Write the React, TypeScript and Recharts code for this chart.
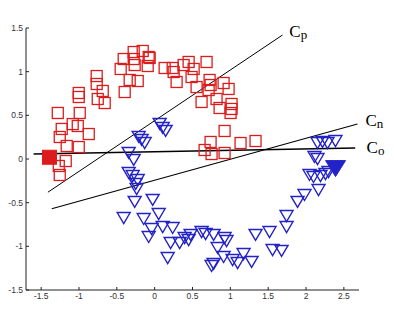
import React from 'react';
import { ScatterChart, Scatter, XAxis, YAxis, ReferenceLine, ReferenceDot } from 'recharts';

// Hollow red squares (positive class)
const redSquares: [number, number][] = [
  [-1.28, 0.527], [-0.99, 0.527], [-1.228, 0.344], [-1.254, 0.252], [-1.083, 0.40],
  [-1.016, 0.378], [-0.871, 0.286], [-1.162, 0.149], [-1.003, 0.137], [-1.175, -0.023],
  [-1.267, -0.08], [-1.254, -0.183], [-1.003, 0.756], [-1.003, 0.71], [-0.766, 0.95],
  [-0.766, 0.859], [-0.686, 0.779], [-0.752, 0.687], [-0.66, 0.641], [-0.449, 1.031],
  [-0.409, 1.145], [-0.396, 0.767], [-0.33, 0.905], [-0.224, 0.893], [-0.277, 1.225],
  [-0.277, 1.145], [-0.264, 1.076], [-0.158, 1.237], [-0.079, 1.168], [-0.066, 1.157],
  [-0.092, 1.065], [0.132, 1.042], [0.238, 1.042], [0.251, 0.996], [0.29, 0.882],
  [0.383, 1.076], [0.449, 1.111], [0.515, 1.031], [0.488, 0.939], [0.554, 0.824],
  [0.686, 1.111], [0.726, 0.905], [0.739, 0.847], [0.713, 0.79], [0.911, 0.87],
  [0.977, 0.802], [0.62, 0.653], [0.818, 0.687], [0.858, 0.584], [1.016, 0.63],
  [1.016, 0.573], [1.003, 0.527], [0.924, 0.321], [0.739, 0.195], [0.66, 0.103],
  [0.752, 0.057], [0.924, 0.069], [1.135, 0.183], [1.333, 0.206],
];

// Hollow blue downward triangles (negative class)
const blueTriangles: [number, number][] = [
  [0.066, 0.401], [0.106, 0.355], [0.145, 0.321], [-0.211, 0.252], [-0.172, 0.218],
  [-0.132, 0.183], [-0.343, 0.069], [-0.277, -0.011], [-0.343, -0.16], [-0.29, -0.195],
  [-0.224, -0.241], [-0.251, -0.286], [-0.238, -0.344], [-0.264, -0.492], [-0.026, -0.469],
  [-0.409, -0.676], [-0.145, -0.687], [0.053, -0.63], [-0.04, -0.802], [-0.079, -0.893],
  [0.106, -0.779], [0.238, -0.79], [0.211, -0.962], [0.172, -1.134], [0.33, -0.962],
  [0.396, -0.905], [0.449, -0.928], [0.475, -0.87], [0.62, -0.836], [0.673, -0.859],
  [0.779, -0.87], [0.924, -0.905], [0.95, -0.939], [0.832, -1.019], [0.911, -1.122],
  [0.779, -1.202], [0.752, -1.225], [1.03, -1.157], [1.096, -1.191], [1.175, -1.088],
  [1.281, -1.179], [1.333, -0.87], [1.518, -0.836], [1.558, -1.042], [1.677, -1.053],
  [1.743, -0.653], [1.743, -0.779], [1.888, -0.492], [1.98, -0.412], [2.165, -0.355],
  [2.046, -0.183], [2.099, -0.206], [2.191, -0.195], [2.257, -0.172], [2.297, -0.149],
  [2.112, 0.023], [2.152, 0.0], [2.152, 0.183], [2.218, 0.195], [2.284, 0.183],
  [2.389, 0.206],
];

const redFilled: [number, number][] = [[-1.39, 0.02]];
const blueFilled: [number, number][] = [[2.39, -0.11]];

// Classifier lines: [start, end]
const lineCp: [number, number][] = [[-1.41, -0.38], [1.69, 1.42]];
const lineCn: [number, number][] = [[-1.36, -0.57], [2.68, 0.4]];
const lineCo: [number, number][] = [[-1.6, 0.057], [2.65, 0.126]];

// Line labels: [x, y, main, subscript]
const lineLabels: [number, number, string, string][] = [
  [1.78, 1.40, 'C', 'p'],
  [2.785, 0.378, 'C', 'n'],
  [2.80, 0.069, 'C', 'o'],
];

const xTicks = [-1.5, -1, -0.5, 0, 0.5, 1, 1.5, 2, 2.5];
const yTicks = [-1.5, -1, -0.5, 0, 0.5, 1, 1.5];

const RED = '#dc1c1c';
const BLUE = '#2222c8';

const toPts = (a: [number, number][]) => a.map(([x, y]) => ({ x, y }));

const HollowSquare = (p: any) => (
  <rect x={p.cx - 5.5} y={p.cy - 5.5} width={11} height={11} fill="none" stroke={RED} strokeWidth={1.3} />
);
const FilledSquare = (p: any) => (
  <rect x={p.cx - 7} y={p.cy - 7} width={14} height={14} fill={RED} stroke={RED} strokeWidth={1} />
);
const HollowTri = (p: any) => (
  <polygon
    points={`${p.cx - 6.5},${p.cy - 5.5} ${p.cx + 6.5},${p.cy - 5.5} ${p.cx},${p.cy + 5.5}`}
    fill="none" stroke={BLUE} strokeWidth={1.4} strokeLinejoin="miter"
  />
);
const FilledTri = (p: any) => (
  <polygon
    points={`${p.cx - 10},${p.cy - 8} ${p.cx + 10},${p.cy - 8} ${p.cx},${p.cy + 8}`}
    fill={BLUE} stroke={BLUE} strokeWidth={1}
  />
);

const XTick = (p: any) => (
  <g>
    <line x1={p.x} x2={p.x} y1={p.y} y2={p.y - 3} stroke="#222" strokeWidth={1} />
    <text x={p.x} y={p.y + 9} textAnchor="middle" fontSize={8.5} fill="#333"
      fontFamily="Liberation Sans, Arial, sans-serif">{String(p.payload.value)}</text>
  </g>
);
const YTick = (p: any) => (
  <g>
    <line x1={p.x} x2={p.x + 3} y1={p.y} y2={p.y} stroke="#222" strokeWidth={1} />
    <text x={p.x - 3} y={p.y} dy="0.35em" textAnchor="end" fontSize={8.5} fill="#333"
      fontFamily="Liberation Sans, Arial, sans-serif">{String(p.payload.value)}</text>
  </g>
);

const seg = (l: [number, number][]) => [{ x: l[0][0], y: l[0][1] }, { x: l[1][0], y: l[1][1] }];

export default function App() {
  return (
    <div style={{ position: 'absolute', left: 0, top: 0, width: 394, height: 319, background: '#fff' }}>
      <ScatterChart width={394} height={319} margin={{ top: 28, right: 35, bottom: 0, left: 0 }}>
        <XAxis type="number" dataKey="x" domain={[-1.7, 2.7]} ticks={xTicks} interval={0}
          allowDataOverflow height={29} tickSize={0} tickMargin={0} tick={<XTick />}
          tickLine={false} axisLine={{ stroke: '#222', strokeWidth: 1 }} />
        <YAxis type="number" dataKey="y" domain={[-1.5, 1.5]} ticks={yTicks} interval={0}
          allowDataOverflow width={26} tickSize={0} tickMargin={0} tick={<YTick />}
          tickLine={false} axisLine={{ stroke: '#222', strokeWidth: 1 }} />
        <Scatter data={toPts(redSquares)} shape={HollowSquare} isAnimationActive={false} />
        <Scatter data={toPts(blueTriangles)} shape={HollowTri} isAnimationActive={false} />
        <ReferenceLine segment={seg(lineCp)} stroke="#000" strokeWidth={1} ifOverflow="visible" />
        <ReferenceLine segment={seg(lineCn)} stroke="#000" strokeWidth={1.1} ifOverflow="visible" />
        <ReferenceLine segment={seg(lineCo)} stroke="#000" strokeWidth={1.4} ifOverflow="visible" />
        <Scatter data={toPts(redFilled)} shape={FilledSquare} isAnimationActive={false} />
        <Scatter data={toPts(blueFilled)} shape={FilledTri} isAnimationActive={false} />
        {lineLabels.map(([x, y, m, s]) => (
          <ReferenceDot key={m + s} x={x} y={y} r={1} ifOverflow="visible"
            shape={(p: any) => (
              <text x={p.cx} y={p.cy} fontSize={17} fill="#000"
                fontFamily="Liberation Serif, Times New Roman, serif">
                {m}<tspan fontSize={13} dy={2}>{s}</tspan>
              </text>
            )} />
        ))}
      </ScatterChart>
    </div>
  );
}
